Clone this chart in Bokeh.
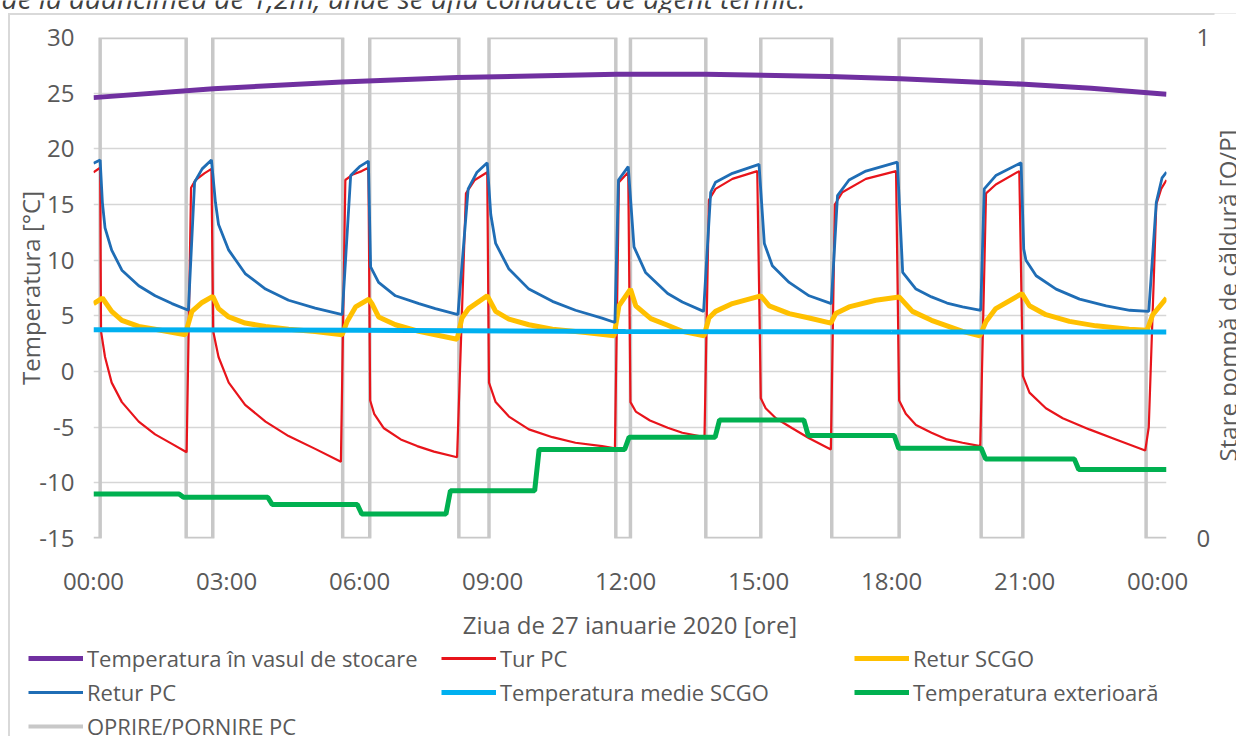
import math
from bokeh.plotting import figure
from bokeh.layouts import column, row
from bokeh.models import (Range1d, LinearAxis, FixedTicker, Legend, LegendItem, Label)
from bokeh.embed import file_html
from bokeh.resources import INLINE

# ---------------- data (hours of 27 Jan 2020) ----------------
x_ticks = [0, 3, 6, 9, 12, 15, 18, 21, 24]
x_tick_labels = ["00:00", "03:00", "06:00", "09:00", "12:00", "15:00", "18:00", "21:00", "00:00"]
y_ticks = [-15, -10, -5, 0, 5, 10, 15, 20, 25, 30]
y_tick_labels = ["-15", "-10", "-5", "0", "5", "10", "15", "20", "25", "30"]
day_end = 24.2

# Temperatura în vasul de stocare
vas_t = [0.0, 2.7, 5.6, 8.2, 11.8, 13.8, 16.6, 18.2, 21.0, 22.5, 24.2]
vas_v = [24.6, 25.4, 26.0, 26.4, 26.7, 26.7, 26.5, 26.3, 25.8, 25.45, 24.9]

# Tur PC
tur_t = [0.00, 0.15, 0.17, 0.26, 0.41, 0.64, 1.02, 1.39, 1.77, 2.10,
         2.20, 2.30, 2.50, 2.66, 2.70, 2.82, 3.05, 3.42, 3.88, 4.40, 5.00, 5.58,
         5.68, 5.85, 6.05, 6.20, 6.24, 6.33, 6.55, 6.93, 7.30, 7.68, 8.20,
         8.40, 8.60, 8.88, 8.92, 9.07, 9.37, 9.82, 10.35, 10.87, 11.47, 11.76,
         11.85, 12.06, 12.11, 12.23, 12.55, 12.95, 13.28, 13.78,
         13.88, 14.03, 14.41, 14.97, 15.05, 15.16, 15.39, 15.76, 16.14, 16.63,
         16.72, 16.89, 17.42, 18.10, 18.17, 18.32, 18.55, 18.90, 19.25, 19.60, 20.00,
         20.13, 20.35, 20.88, 20.96, 21.11, 21.48, 21.86, 22.46, 23.06, 23.72,
         23.80, 23.97, 24.08, 24.20]
tur_v = [17.9, 18.3, 3.6, 1.3, -1.0, -2.75, -4.5, -5.65, -6.5, -7.25,
         16.5, 17.2, 17.8, 18.2, 3.6, 1.3, -1.0, -3.0, -4.5, -5.8, -6.95, -8.1,
         17.2, 17.7, 18.0, 18.3, -2.6, -3.8, -5.1, -6.1, -6.7, -7.2, -7.7,
         16.0, 17.2, 17.9, -1.0, -2.75, -4.05, -5.2, -5.9, -6.4, -6.7, -6.9,
         17.0, 17.9, -2.75, -3.6, -4.4, -5.05, -5.5, -5.9,
         15.4, 16.4, 17.3, 18.0, -2.4, -3.3, -4.2, -5.1, -6.0, -7.0,
         15.0, 16.1, 17.3, 18.0, -2.6, -3.8, -4.8, -5.5, -6.1, -6.4, -6.7,
         16.0, 16.8, 18.0, -0.4, -1.9, -3.3, -4.2, -5.2, -6.1, -7.1,
         -5.0, 15.0, 16.4, 17.2]

# Retur SCGO
scgo_t = [0.00, 0.20, 0.41, 0.64, 1.02, 1.39, 2.07, 2.11, 2.22, 2.45, 2.69,
          2.82, 3.05, 3.42, 3.88, 4.40, 5.00, 5.61, 5.72, 5.91, 6.21,
          6.28, 6.43, 6.81, 7.34, 7.71, 8.20, 8.31, 8.46, 8.88,
          9.07, 9.37, 9.82, 10.35, 11.10, 11.74, 11.85, 12.11,
          12.23, 12.57, 12.95, 13.28, 13.77, 13.88, 14.03, 14.41, 15.05,
          15.24, 15.69, 16.14, 16.63, 16.74, 17.04, 17.64, 18.17,
          18.47, 18.90, 19.25, 19.60, 19.99, 20.13, 20.35, 20.94,
          21.11, 21.48, 22.01, 22.61, 23.36, 23.76, 23.89, 24.20]
scgo_v = [6.1, 6.6, 5.4, 4.6, 4.05, 3.8, 3.3, 3.9, 5.4, 6.2, 6.75,
          5.65, 4.9, 4.35, 4.05, 3.8, 3.6, 3.3, 4.5, 5.8, 6.5,
          6.1, 4.9, 4.2, 3.6, 3.3, 2.9, 4.8, 5.65, 6.8,
          5.4, 4.7, 4.2, 3.8, 3.5, 3.2, 5.9, 7.4,
          5.9, 4.75, 4.15, 3.6, 3.2, 4.8, 5.4, 6.1, 6.8,
          5.9, 5.2, 4.8, 4.35, 5.2, 5.8, 6.4, 6.7,
          5.4, 4.6, 4.1, 3.6, 3.2, 4.5, 5.65, 7.0,
          5.9, 5.1, 4.5, 4.1, 3.8, 3.7, 5.1, 6.6]

# Retur PC
ret_t = [0.00, 0.15, 0.20, 0.26, 0.41, 0.64, 1.02, 1.39, 1.77, 2.14,
         2.28, 2.45, 2.66, 2.75, 2.82, 3.05, 3.42, 3.88, 4.40, 5.00, 5.61,
         5.80, 6.00, 6.20, 6.25, 6.43, 6.81, 7.34, 7.71, 8.22,
         8.45, 8.65, 8.88, 8.96, 9.07, 9.37, 9.82, 10.35, 10.87, 11.47, 11.76,
         11.84, 12.06, 12.19, 12.45, 12.95, 13.28, 13.76,
         13.92, 14.03, 14.41, 15.01, 15.13, 15.31, 15.69, 16.14, 16.64,
         16.78, 17.04, 17.42, 18.13, 18.25, 18.55, 18.90, 19.25, 19.60, 20.01,
         20.09, 20.35, 20.92, 20.98, 21.03, 21.26, 21.71, 22.24, 22.84, 23.37, 23.80,
         23.97, 24.10, 24.20]
ret_v = [18.7, 19.0, 15.2, 12.9, 10.9, 9.1, 7.7, 6.8, 6.1, 5.5,
         17.0, 18.2, 19.0, 15.2, 13.2, 10.9, 8.8, 7.4, 6.4, 5.7, 5.1,
         17.6, 18.4, 18.9, 9.4, 8.0, 6.8, 6.1, 5.65, 5.1,
         16.4, 17.9, 18.75, 14.1, 11.5, 9.2, 7.4, 6.3, 5.5, 4.8, 4.4,
         17.2, 18.4, 11.2, 8.9, 7.0, 6.25, 5.4,
         16.1, 17.0, 17.8, 18.6, 11.5, 9.5, 8.0, 6.8, 6.1,
         15.8, 17.2, 18.0, 18.8, 8.9, 7.4, 6.7, 6.15, 5.8, 5.5,
         16.4, 17.6, 18.75, 11.0, 10.0, 8.6, 7.4, 6.5, 5.9, 5.5, 5.4,
         15.2, 17.4, 17.9]

# Temperatura medie SCGO
medie_t = [0.0, 6.0, 12.0, 18.0, 24.2]
medie_v = [3.75, 3.7, 3.6, 3.55, 3.55]

# Temperatura exterioară (2-hourly values)
ext_change_hours = [1.93, 3.93, 5.95, 7.95, 9.95, 11.98, 14.02, 16.02, 18.06, 20.02, 22.12]
ext_levels = [-11.0, -11.3, -11.95, -12.8, -10.7, -7.0, -5.9, -4.35, -5.75, -6.9, -7.85, -8.8]

# OPRIRE/PORNIRE PC (switch times, state starts at 0)
pump_switch_hours = [0.15, 2.09, 2.69, 5.62, 6.23, 8.24, 8.92, 11.78, 12.11,
                     13.81, 15.05, 16.65, 18.17, 20.02, 20.96, 23.74]
pump_initial = 0

caption_text = "de la adâncimea de 1,2m, unde se află conducte de agent termic."
right_axis_title = "Stare pompă de căldură [O/P]"

series_names = ["Temperatura în vasul de stocare", "Tur PC", "Retur SCGO", "Retur PC",
                "Temperatura medie SCGO", "Temperatura exterioară", "OPRIRE/PORNIRE PC"]

# ---------------- derived step series ----------------
ext_t, ext_v = [0.0], [ext_levels[0]]
for h, prev, new in zip(ext_change_hours, ext_levels[:-1], ext_levels[1:]):
    ext_t += [h, h + 0.1]
    ext_v += [prev, new]
ext_t.append(day_end)
ext_v.append(ext_levels[-1])

pump_t, pump_v = [0.0], [pump_initial]
cur = pump_initial
for h in pump_switch_hours:
    pump_t += [h, h]
    pump_v += [cur, 1 - cur]
    cur = 1 - cur
pump_t.append(day_end)
pump_v.append(cur)

# ---------------- styles ----------------
FONT = "Open Sans"
TXT = "#595959"
colors = {
    "Temperatura în vasul de stocare": "#7030A0",
    "Tur PC": "#E8141B",
    "Retur SCGO": "#FFC000",
    "Retur PC": "#1F6DB5",
    "Temperatura medie SCGO": "#00B0F0",
    "Temperatura exterioară": "#00B050",
    "OPRIRE/PORNIRE PC": "#c8c8c8",
}
widths = {
    "Temperatura în vasul de stocare": 5, "Tur PC": 2.2, "Retur SCGO": 5,
    "Retur PC": 2.8, "Temperatura medie SCGO": 5, "Temperatura exterioară": 5,
    "OPRIRE/PORNIRE PC": 3.5,
}
legend_widths = dict(widths, **{"Tur PC": 3, "Retur PC": 3, "OPRIRE/PORNIRE PC": 4})

def style(name):
    return dict(line_color=colors[name], line_width=widths[name])

def bare(fig):
    fig.outline_line_color = None
    fig.background_fill_color = "white"
    fig.border_fill_color = "white"
    fig.xgrid.visible = False
    fig.ygrid.visible = False

def strip(w, h, xr, yr):
    f = figure(width=w, height=h, output_backend="svg", toolbar_location=None,
               x_range=Range1d(*xr), y_range=Range1d(*yr),
               x_axis_location=None, y_axis_location=None,
               min_border=0, min_border_left=0, min_border_right=0,
               min_border_top=0, min_border_bottom=0)
    bare(f)
    return f

# ---------------- caption strip (cropped at the window top) ----------------
cap = strip(1236, 13, (0, 1236), (0, 13))
cap.add_layout(Label(x=1, y=16, text=caption_text, text_font=FONT,
                     text_font_style="italic", text_font_size="28px",
                     text_color="#404040", text_baseline="alphabetic"))

# ---------------- main chart ----------------
p = figure(width=1214, height=630, output_backend="svg", toolbar_location=None,
           x_range=Range1d(0, day_end), y_range=Range1d(-15, 30),
           min_border_left=93, min_border_right=48, min_border_top=24,
           min_border_bottom=91)
p.extra_y_ranges = {"state": Range1d(0, 1)}
p.outline_line_color = None
p.background_fill_color = "white"
p.border_fill_alpha = 0
p.xgrid.visible = False
p.ygrid.ticker = FixedTicker(ticks=y_ticks)
p.ygrid.grid_line_color = "#d6d6d6"
p.ygrid.grid_line_width = 1.6

yax = p.yaxis[0]
yax.ticker = FixedTicker(ticks=y_ticks)
yax.major_label_overrides = {t: lab for t, lab in zip(y_ticks, y_tick_labels)}
yax.axis_label = "Temperatura [°C]"
xax = p.xaxis[0]
xax.ticker = FixedTicker(ticks=x_ticks)
xax.major_label_overrides = {t: lab for t, lab in zip(x_ticks, x_tick_labels)}
xax.axis_label = "Ziua de 27 ianuarie 2020 [ore]"

rax = LinearAxis(y_range_name="state", ticker=FixedTicker(ticks=[0, 1]))
p.add_layout(rax, "right")

for ax in (yax, xax, rax):
    ax.axis_line_color = None
    ax.major_tick_line_color = None
    ax.minor_tick_line_color = None
    ax.major_label_text_font = FONT
    ax.major_label_text_font_size = "24px"
    ax.major_label_text_color = TXT
    ax.axis_label_text_font = FONT
    ax.axis_label_text_font_size = "24px"
    ax.axis_label_text_font_style = "normal"
    ax.axis_label_text_color = TXT
yax.major_label_standoff = 13
yax.axis_label_standoff = -11
xax.major_label_standoff = 19
xax.axis_label_standoff = 8
rax.major_label_standoff = 24

p.line(pump_t, pump_v, y_range_name="state", **style("OPRIRE/PORNIRE PC"))
p.line(vas_t, vas_v, **style("Temperatura în vasul de stocare"))
p.line(tur_t, tur_v, **style("Tur PC"))
p.line(scgo_t, scgo_v, **style("Retur SCGO"))
p.line(ret_t, ret_v, **style("Retur PC"))
p.line(medie_t, medie_v, **style("Temperatura medie SCGO"))
p.line(ext_t, ext_v, **style("Temperatura exterioară"))

# ---------------- right axis title strip (reads bottom to top) ----------------
rt = strip(22, 630, (0, 22), (0, 630))
rt.add_layout(Label(x=13, y=348, angle=math.pi / 2, text=right_axis_title,
                    text_font=FONT, text_font_size="24px", text_color=TXT,
                    text_align="center", text_baseline="middle"))

# ---------------- legend strip ----------------
leg = strip(1236, 93, (0, 1), (0, 1))
leg.background_fill_alpha = 0
leg.border_fill_alpha = 0
items = []
for name in series_names:
    # one undefined point: nothing is drawn in the strip, only the legend key
    r = leg.line([float("nan")], [float("nan")], line_color=colors[name],
                 line_width=legend_widths[name])
    items.append(LegendItem(label=name, renderers=[r]))
legend = Legend(items=items, location=(28, -5), orientation="horizontal", ncols=3)
legend.label_text_font = FONT
legend.label_text_font_size = "22px"
legend.label_text_color = TXT
legend.glyph_width = 55
legend.glyph_height = 20
legend.label_height = 20
legend.label_width = 350
legend.label_standoff = 4
legend.spacing = 4
legend.padding = 0
legend.margin = 0
legend.border_line_alpha = 0
legend.background_fill_alpha = 0
leg.add_layout(legend, "center")

layout = column(row(cap), row(p, column(rt)), row(leg), spacing=0)
layout.styles = {
    "background-image": "linear-gradient(#d9d9d9, #d9d9d9), linear-gradient(#d9d9d9, #d9d9d9)",
    "background-size": "100% 2px, 2px 100%",
    "background-position": "8px 13px, 8px 13px",
    "background-repeat": "no-repeat",
}
open("out.html", "w").write(file_html(layout, INLINE))
